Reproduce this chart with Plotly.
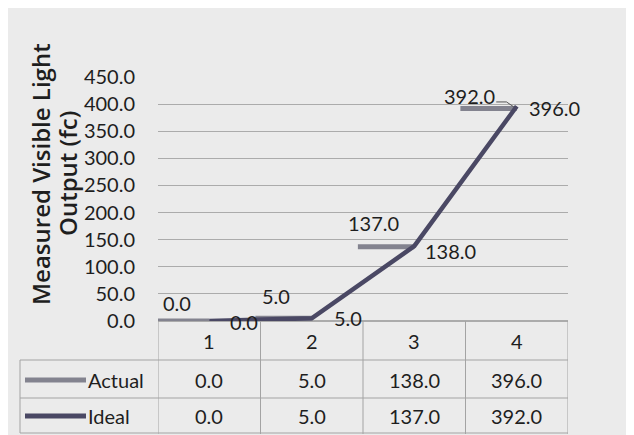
import plotly.graph_objects as go

categories = [1, 2, 3, 4]
actual = [0.0, 5.0, 138.0, 396.0]
ideal = [0.0, 5.0, 137.0, 392.0]
series_names = ["Actual", "Ideal"]
y_title_lines = ["Measured Visible Light", "Output (fc)"]

# the page body has an 8px margin, so the figure is drawn 8px smaller
OFF = 8
W, H = 634 - OFF, 435 - OFF
L, R, T, B = 158 - OFF, 66, 77 - OFF, 114
PH = H - T - B

def yp(py):
    return (321 - py) / PH

def xp(px):
    return (px - 158) / (W - L - R)

FONT = "Lato, 'Open Sans', sans-serif"
TFONT = "'Open Sans', sans-serif"
TXT = "#1e1e1e"
DARK = "#4a4864"
GREY = "#83838f"
GRID = "#ababab"

fig = go.Figure()

# Ideal: short grey dashes ending at each category
for c, v in zip(categories, ideal):
    fig.add_trace(go.Scatter(x=[c - 0.55, c], y=[v, v], mode="lines",
                             line=dict(color=GREY, width=5), showlegend=False,
                             hoverinfo="skip"))

# Actual: dark connected line
fig.add_trace(go.Scatter(x=categories, y=actual, mode="lines",
                         line=dict(color=DARK, width=4.5), showlegend=False))

annotations = []
shapes = []

# Actual labels (right of points)
a_offs = [(19, -1), (20, 0), (9, -5), (10, -2)]
for (c, v), (dx, dy) in zip(zip(categories, actual), a_offs):
    annotations.append(dict(x=c, y=v, xref="x", yref="y", text=f"{v:.1f}",
                            showarrow=False, xanchor="left", yanchor="middle",
                            xshift=dx, yshift=dy,
                            font=dict(family=FONT, size=20, color=TXT)))

# Ideal labels (above-left of the dashes)
i_offs = [(-32, 18), (-36, 22), (-41, 24), (-47, 12)]
for (c, v), (dx, dy) in zip(zip(categories, ideal), i_offs):
    annotations.append(dict(x=c, y=v, xref="x", yref="y", text=f"{v:.1f}",
                            showarrow=False, xanchor="center", yanchor="middle",
                            xshift=dx, yshift=dy,
                            font=dict(family=FONT, size=20, color=TXT)))
# leader line for last ideal label
shapes.append(dict(type="path", xref="x", yref="y",
                   path=f"M {categories[-1]-0.2} {ideal[-1]+12} L {categories[-1]-0.1} {ideal[-1]+12} L {categories[-1]-0.03} {ideal[-1]+3}",
                   line=dict(color="#555", width=1)))

# Table
tcol = "#a3a3a3"
for b in [c - 0.5 for c in categories] + [categories[-1] + 0.5]:
    shapes.append(dict(type="line", xref="x", yref="paper", x0=b, x1=b,
                       y0=yp(321), y1=yp(434), line=dict(color=tcol, width=1)))
for py in [360, 398, 433]:
    shapes.append(dict(type="line", xref="paper", yref="paper", x0=xp(20), x1=xp(568),
                       y0=yp(py), y1=yp(py), line=dict(color=tcol, width=1)))
shapes.append(dict(type="line", xref="paper", yref="paper", x0=xp(20), x1=xp(20),
                   y0=yp(360), y1=yp(433), line=dict(color=tcol, width=1)))

for c in categories:
    annotations.append(dict(x=c, y=yp(341), xref="x", yref="paper", text=str(c),
                            showarrow=False, xanchor="center", yanchor="middle",
                            font=dict(family=FONT, size=20, color=TXT)))

rows = [(series_names[0], actual, GREY, 380), (series_names[1], ideal, DARK, 416)]
for name, vals, col, py in rows:
    shapes.append(dict(type="line", xref="paper", yref="paper", x0=xp(25), x1=xp(86),
                       y0=yp(py), y1=yp(py), line=dict(color=col, width=5)))
    annotations.append(dict(x=xp(86), y=yp(py), xref="paper", yref="paper", text=name,
                            xanchor="left", yanchor="middle", showarrow=False,
                            font=dict(family=FONT, size=20, color=TXT)))
    for c, v in zip(categories, vals):
        annotations.append(dict(x=c, y=yp(py), xref="x", yref="paper", text=f"{v:.1f}",
                                showarrow=False, xanchor="center", yanchor="middle",
                                font=dict(family=FONT, size=20, color=TXT)))

# Y axis title (two lines)
for line, px in zip(y_title_lines, [40, 67]):
    annotations.append(dict(x=xp(px), y=yp(174), xref="paper", yref="paper", text=line,
                            textangle=-90, showarrow=False, xanchor="center", yanchor="middle",
                            font=dict(family=TFONT, size=24, color=TXT, weight=600)))

fig.update_layout(
    width=W, height=H,
    margin=dict(l=L, r=R, t=T, b=B),
    paper_bgcolor="#ebebeb", plot_bgcolor="#ebebeb",
    showlegend=False,
    shapes=shapes, annotations=annotations,
    xaxis=dict(range=[0.5, 4.5], showgrid=False, showticklabels=False,
               zeroline=False, showline=False, ticks=""),
    yaxis=dict(range=[0, 450], dtick=50, tickformat=".1f", showgrid=True,
               gridcolor=GRID, gridwidth=1, zeroline=True, zerolinecolor=GRID,
               showline=False, ticks="", ticklabelstandoff=22,
               tickfont=dict(family=FONT, size=20, color=TXT)),
)

fig.write_html("out.html")
